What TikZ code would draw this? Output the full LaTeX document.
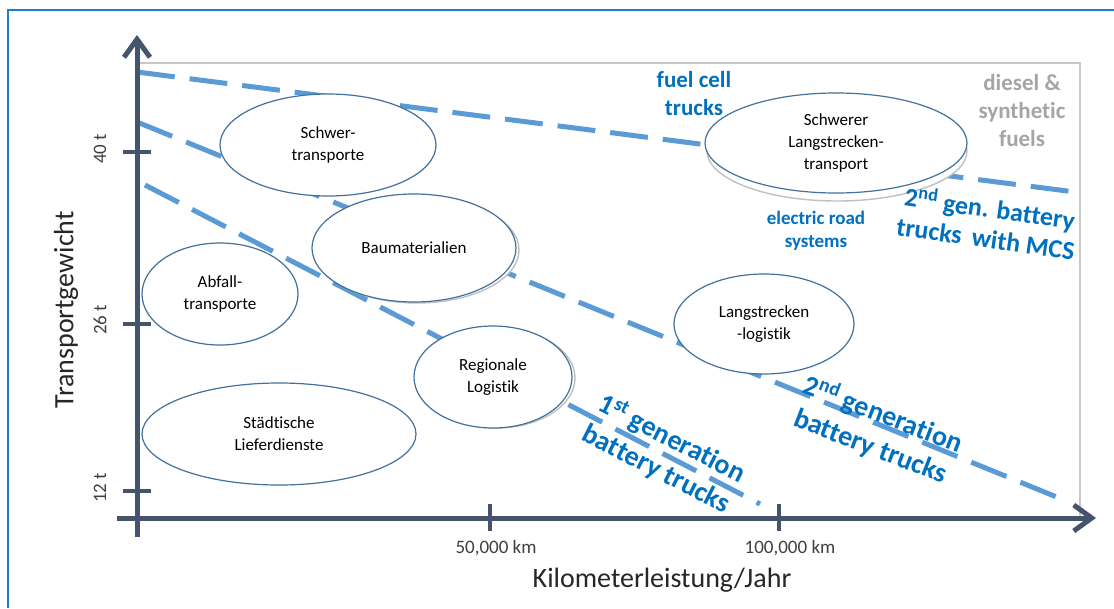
\documentclass[tikz,border=0pt]{standalone}
\usepackage{fontspec}
\setmainfont{Carlito}[Ligatures=NoCommon]
\usetikzlibrary{arrows.meta,shapes.geometric}
\definecolor{axiscol}{HTML}{44546A}
\definecolor{dashcol}{HTML}{5B9BD5}
\definecolor{txtblue}{HTML}{0070C0}
\definecolor{ellcol}{HTML}{41719C}
\definecolor{framecol}{HTML}{C8C8C8}
\definecolor{outercol}{HTML}{1A7FD4}
\definecolor{dieselcol}{HTML}{A5A5A5}
\definecolor{labcol}{HTML}{404040}
\definecolor{titlecol}{HTML}{262626}
\definecolor{shadecol}{HTML}{C0C0C0}
\begin{document}
\begin{tikzpicture}[x=1pt,y=-1pt,
  field/.style={ellipse, draw=ellcol, line width=1.2pt, fill=white, inner sep=0pt, align=center,
    font=\fontsize{17}{22}\selectfont, text=black},
  shadeell/.style={ellipse, draw=shadecol, line width=1.4pt, fill=white, inner sep=0pt},
  techline/.style={draw=dashcol, line width=5pt, dash pattern=on 38pt off 15pt},
  axisline/.style={draw=axiscol, line width=5pt},
  tickline/.style={draw=axiscol, line width=4pt},
  techlabel/.style={text=txtblue, font=\bfseries\fontsize{28}{34}\selectfont, align=center, inner sep=0pt},
  smalltech/.style={text=txtblue, font=\bfseries\fontsize{23}{28}\selectfont, align=center, inner sep=0pt},
  ticklabel/.style={text=labcol, font=\fontsize{19}{22}\selectfont, inner sep=0pt},
  axistitle/.style={text=titlecol, font=\fontsize{28}{32}\selectfont, inner sep=0pt},
  tipstyle/.style={-{Straight Barb[length=18pt,width=26pt]}}
]
\useasboundingbox (0,0) rectangle (1114,608);
\fill[white] (0,0) rectangle (1114,608);
% outer frame
\coordinate (ofA) at (8,608);
\coordinate (ofB) at (8,10);
\coordinate (ofC) at (1114,10);
\draw[outercol, line width=2pt] (ofA) -- (ofB) -- (ofC);
% plot frame
\coordinate (pfA) at (137,63);
\coordinate (pfB) at (1080,63);
\coordinate (pfC) at (1080,518);
\draw[framecol, line width=1.5pt] (pfA) -- (pfB) -- (pfC);
% dashed technology lines
\coordinate (fcA) at (137,72);
\coordinate (fcB) at (1075,192);
\coordinate (sgA) at (137,122);
\coordinate (sgB) at (1064,500);
\coordinate (fgA) at (145,185);
\coordinate (fgB) at (760,504);
\draw[techline] (fcA) -- (fcB);
\draw[techline] (sgA) -- (sgB);
\draw[techline] (fgA) -- (fgB);
% shadows
\node[shadeell, minimum width=260pt, minimum height=100pt] (shLang) at (837,151) {};
\node[shadeell, minimum width=204pt, minimum height=106pt] (shBau) at (417,250) {};
\node[shadeell, minimum width=158pt, minimum height=100pt] (shReg) at (496,378) {};
% fields
\node[field, minimum width=216pt, minimum height=102pt] (schwer) at (328,145) {Schwer-\\transporte};
\node[field, minimum width=204pt, minimum height=108pt] (bau) at (414,248) {Baumaterialien};
\node[field, minimum width=156pt, minimum height=102pt] (abfall) at (220,294) {Abfall-\\transporte};
\node[field, minimum width=274pt, minimum height=102pt] (staedt) at (279,434) {Städtische\\Lieferdienste};
\node[field, minimum width=158pt, minimum height=102pt] (regio) at (493,377) {Regionale\\Logistik};
\node[field, minimum width=180pt, minimum height=100pt] (langlog) at (764,324) {Langstrecken\\-logistik};
\node[field, minimum width=262pt, minimum height=100pt] (schwerlang) at (836,143) {Schwerer\\Langstrecken-\\transport};
% technology labels
\node[smalltech] (fuelcell) at (694,94) {fuel cell\\trucks};
\node[smalltech, text=dieselcol] (diesel) at (1022,111) {diesel \&\\synthetic\\fuels};
\node[text=txtblue, font=\bfseries\fontsize{19}{23}\selectfont, align=center, inner sep=0pt] (ers) at (816,231) {electric road\\systems};
\node[techlabel, font=\bfseries\fontsize{26}{30}\selectfont, rotate=-8] (mcs) at (988,222) {2\textsuperscript{nd} gen. battery\\trucks\, with MCS};
\node[techlabel, rotate=-27] (firstgen) at (664,454) {1\textsuperscript{st} generation\\battery trucks};
\node[techlabel, rotate=-21] (secondgen) at (877,430) {2\textsuperscript{nd} generation\\battery trucks};
% axes
\coordinate (yBot) at (137,537);
\coordinate (yTop) at (137,35);
\coordinate (xLeft) at (117,518);
\coordinate (xRight) at (1096,518);
\draw[axisline, tipstyle] (yBot) -- (yTop);
\draw[axisline, tipstyle] (xLeft) -- (xRight);
% y ticks
\coordinate (t40a) at (123,152); \coordinate (t40b) at (151,152);
\coordinate (t26a) at (123,324); \coordinate (t26b) at (151,324);
\coordinate (t12a) at (123,491); \coordinate (t12b) at (151,491);
\draw[tickline] (t40a) -- (t40b);
\draw[tickline] (t26a) -- (t26b);
\draw[tickline] (t12a) -- (t12b);
% x ticks
\coordinate (k50a) at (490,504); \coordinate (k50b) at (490,531);
\coordinate (k100a) at (779,504); \coordinate (k100b) at (779,531);
\draw[tickline] (k50a) -- (k50b);
\draw[tickline] (k100a) -- (k100b);
% tick labels
\node[ticklabel, rotate=90] (l40) at (100,149) {40 t};
\node[ticklabel, rotate=90] (l26) at (100,320) {26 t};
\node[ticklabel, rotate=90] (l12) at (100,488) {12 t};
\node[ticklabel] (l50) at (496,548) {50,000 km};
\node[ticklabel] (l100) at (790,548) {100,000 km};
% axis titles
\node[axistitle, rotate=90] (ytitle) at (66,310) {Transportgewicht};
\node[axistitle] (xtitle) at (662,580) {Kilometerleistung/Jahr};
\end{tikzpicture}
\end{document}
